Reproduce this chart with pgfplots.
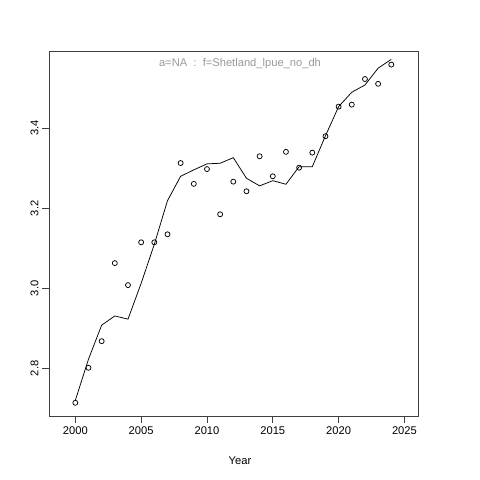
\documentclass[border=0pt]{standalone}
\usepackage{fontspec}
\setmainfont{Liberation Sans}
\usepackage{pgfplots}
\pgfplotsset{compat=1.18}
\begin{document}
\begin{tikzpicture}
\path[use as bounding box] (-49bp,-64bp) rectangle (431bp,416bp);
\begin{axis}[
  at={(0,0)}, anchor=south west,
  scale only axis, width=369bp, height=365bp,
  xmin=1998, xmax=2026.03, ymin=2.681, ymax=3.593,
  axis line style={black!75, line width=0.75bp},
  xtick={2000,2005,2010,2015,2020,2025},
  ytick={2.8,3.0,3.2,3.4},
  yticklabels={2.8,3.0,3.2,3.4},
  xticklabels={2000,2005,2010,2015,2020,2025},
  tick align=outside, major tick length=7bp,
  tick style={black!75, line width=0.75bp},
  xtick pos=bottom, ytick pos=left,
  ticklabel style={font=\fontsize{11.2}{13}\selectfont},
  yticklabel style={rotate=90, anchor=south},
  /pgf/number format/assume math mode=true,
]
\addplot[black, line width=0.75bp] coordinates {
(2000,2.72) (2001,2.823) (2002,2.908) (2003,2.931) (2004,2.923) (2005,3.0125)
(2006,3.11) (2007,3.219) (2008,3.28) (2009,3.296) (2010,3.311) (2011,3.3125)
(2012,3.3265) (2013,3.275) (2014,3.256) (2015,3.269) (2016,3.26) (2017,3.304)
(2018,3.304) (2019,3.381) (2020,3.454) (2021,3.49) (2022,3.508) (2023,3.55)
(2024,3.572)};
\addplot[only marks, mark=o, mark size=2.5bp, mark options={black, line width=0.75bp}] coordinates {
(2000,2.714) (2001,2.8015) (2002,2.868) (2003,3.063) (2004,3.008) (2005,3.115)
(2006,3.115) (2007,3.135) (2008,3.313) (2009,3.261) (2010,3.298) (2011,3.185)
(2012,3.2665) (2013,3.2425) (2014,3.33) (2015,3.28) (2016,3.341) (2017,3.3015)
(2018,3.339) (2019,3.38) (2020,3.454) (2021,3.459) (2022,3.523) (2023,3.511)
(2024,3.559)};
\end{axis}
\node[text=black!40, font=\fontsize{11.2}{13}\selectfont] at (191bp,352bp) {a=NA\ \ :\ \ f=Shetland\_lpue\_no\_dh};
\node[font=\fontsize{11.2}{13}\selectfont] at (191bp,-44.5bp) {Year};
\end{tikzpicture}
\end{document}
